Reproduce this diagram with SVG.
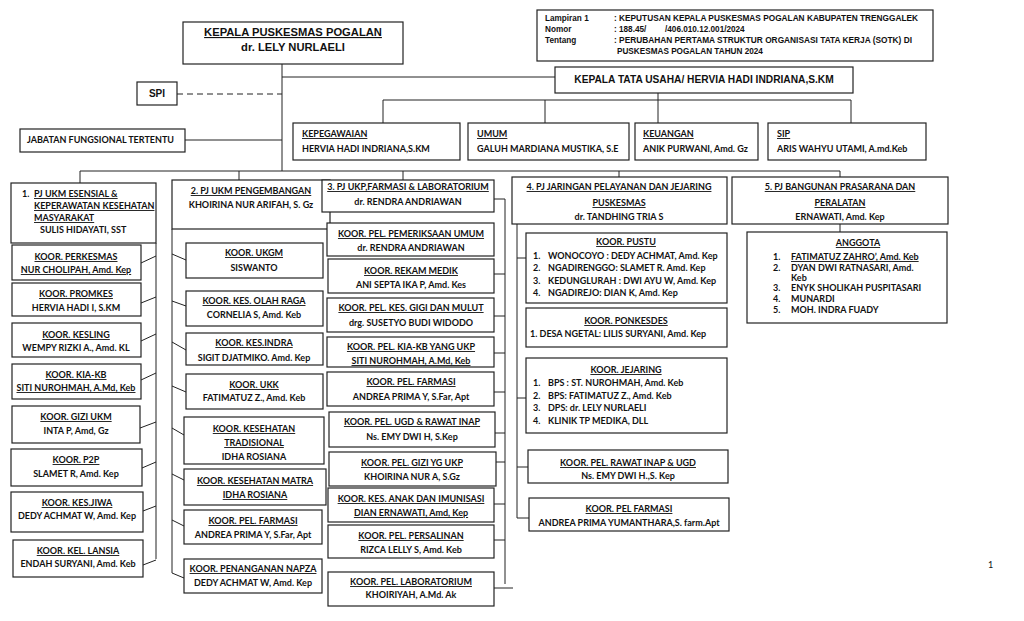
<svg xmlns="http://www.w3.org/2000/svg" width="1024" height="621" viewBox="0 0 1024 621">
<style>
.b{fill:#fff;stroke:#222;stroke-width:1.2}
.t{font-family:Lato,"Open Sans",sans-serif;font-weight:700;font-size:9px;fill:#111}
.c{text-anchor:middle}
.u{text-decoration:underline}
.a{font-family:"Liberation Sans",Arial,sans-serif;font-weight:700;fill:#111}
.h{font-size:8.2px}
.ln{stroke:#222;stroke-width:1;fill:none}
</style>
<rect width="1024" height="621" fill="#fff"/>
<g id="connectors">
<path class="ln" d="M282 64V171M282 77H555M282 140H185M80 171H840M80 171V183M239 171V180M403 171V180M619 171V177M840 171V177M840 224V232"/>
<path class="ln" d="M177 94H282" stroke-dasharray="6,4"/>
<path class="ln" d="M658 93V100M383 100H851M383 100V123M545 100V123M658 100V123M851 100V123"/>
<path class="ln" d="M156 243V559M141 263L156 256M141 303L156 297M141 341L156 334M141 380L156 373M140 428L156 422M142 468L156 462M143 511L156 506M143 565L156 560"/>
<path class="ln" d="M172 229V573M172 254L186 260M172 301L186 306M172 342L186 350M172 386L186 392M172 428L184 435M172 474L184 480M172 520L184 526M172 573L184 578"/>
<path class="ln" d="M494 199H505V584M494 274H505M494 316H505M494 353H505M494 392H505M495 433H505M496 462H505M494 504H505M494 540H505M494 588H513"/>
<path class="ln" d="M517 224V518M517 258H526M517 398H526M517 467H528M517 518H529"/>
</g>
<g id="header">
<rect class="b" x="537" y="10" width="396" height="51"/>
<text class="a h" x="545" y="21">Lampiran 1</text>
<text class="a h" x="545" y="32">Nomor</text>
<text class="a h" x="545" y="43">Tentang</text>
<text class="a h" x="614" y="21" textLength="304" lengthAdjust="spacingAndGlyphs">: KEPUTUSAN KEPALA PUSKESMAS POGALAN KABUPATEN TRENGGALEK</text>
<text class="a h" x="614" y="32">: 188.45/</text>
<text class="a h" x="665" y="32">/406.010.12.001/2024</text>
<text class="a h" x="614" y="43" textLength="298" lengthAdjust="spacingAndGlyphs">: PERUBAHAN PERTAMA STRUKTUR ORGANISASI TATA KERJA (SOTK) DI</text>
<text class="a h" x="617" y="54">PUSKESMAS POGALAN TAHUN 2024</text>
</g>
<g id="kepala">
<rect class="b" x="183" y="22" width="220" height="42"/>
<text class="a c u" font-size="11.2" x="293" y="36">KEPALA  PUSKESMAS POGALAN</text>
<text class="a c" font-size="11.2" x="293" y="51">dr. LELY NURLAELI</text>
</g>
<g id="spi">
<rect class="b" x="137" y="82" width="40" height="23"/>
<text class="a c" font-size="10" x="157" y="97">SPI</text>
</g>
<g id="jft">
<rect class="b" x="20" y="129" width="165" height="23"/>
<text class="t" x="27" y="143">JABATAN FUNGSIONAL TERTENTU</text>
</g>
<g id="ktu">
<rect class="b" x="555" y="67" width="298" height="26"/>
<text class="a c" font-size="10.2" x="704" y="83">KEPALA TATA USAHA/ HERVIA HADI INDRIANA,S.KM</text>
</g>
<g id="kepegawaian">
<rect class="b" x="293" y="123" width="167" height="37"/>
<text class="t u" x="302" y="137">KEPEGAWAIAN</text>
<text class="t" x="302" y="152">HERVIA HADI INDRIANA,S.KM</text>
</g>
<g id="umum">
<rect class="b" x="468" y="123" width="161" height="37"/>
<text class="t u" x="477" y="137">UMUM</text>
<text class="t" x="477" y="152">GALUH MARDIANA MUSTIKA, S.E</text>
</g>
<g id="keuangan">
<rect class="b" x="635" y="123" width="123" height="37"/>
<text class="t u" x="643" y="137">KEUANGAN</text>
<text class="t" x="643" y="152">ANIK PURWANI, Amd. Gz</text>
</g>
<g id="sip">
<rect class="b" x="768" y="123" width="158" height="37"/>
<text class="t u" x="777" y="137">SIP</text>
<text class="t" x="777" y="152">ARIS WAHYU UTAMI, A.md.Keb</text>
</g>
<g id="pj1">
<rect class="b" x="11" y="183" width="145" height="60"/>
<text class="t" x="22" y="197">1.</text>
<text class="t u" x="34" y="197">PJ UKM ESENSIAL &amp;</text>
<text class="t u" x="34" y="209">KEPERAWATAN KESEHATAN</text>
<text class="t u" x="34" y="221">MASYARAKAT</text>
<text class="t" x="40" y="233">SULIS HIDAYATI, SST</text>
</g>
<g id="perkesmas"><rect class="b" x="12" y="245" width="129" height="35"/><text class="t c u" x="76" y="260">KOOR. PERKESMAS</text><text class="t c u" x="76" y="273">NUR CHOLIPAH, Amd. Kep</text></g>
<g id="promkes"><rect class="b" x="12" y="283" width="129" height="33"/><text class="t c u" x="76" y="297">KOOR. PROMKES</text><text class="t c" x="76" y="311">HERVIA HADI I, S.KM</text></g>
<g id="kesling"><rect class="b" x="12" y="323" width="129" height="34"/><text class="t c u" x="76" y="338">KOOR. KESLING</text><text class="t c" x="76" y="351">WEMPY RIZKI A., Amd. KL</text></g>
<g id="kiakb"><rect class="b" x="12" y="364" width="129" height="35"/><text class="t c u" x="76" y="378">KOOR. KIA-KB</text><text class="t c u" x="76" y="391">SITI NUROHMAH, A.Md, Keb</text></g>
<g id="gizi"><rect class="b" x="12" y="406" width="128" height="37"/><text class="t c u" x="76" y="420">KOOR. GIZI UKM</text><text class="t c" x="76" y="434">INTA P, Amd, Gz</text></g>
<g id="p2p"><rect class="b" x="11" y="449" width="131" height="37"/><text class="t c u" x="76" y="463">KOOR. P2P</text><text class="t c" x="76" y="477">SLAMET R, Amd. Kep</text></g>
<g id="kesjiwa"><rect class="b" x="11" y="492" width="132" height="40"/><text class="t c u" x="77" y="506">KOOR. KES.JIWA</text><text class="t c" x="77" y="519">DEDY ACHMAT W, Amd. Kep</text></g>
<g id="lansia"><rect class="b" x="13" y="540" width="130" height="37"/><text class="t c u" x="78" y="554">KOOR. KEL. LANSIA</text><text class="t c" x="78" y="567">ENDAH SURYANI, Amd. Keb</text></g>
<g id="pj2">
<rect class="b" x="172" y="180" width="158" height="49"/>
<text class="t c u" x="251" y="194">2. PJ UKM PENGEMBANGAN</text>
<text class="t c" x="251" y="208">KHOIRINA NUR ARIFAH, S. Gz</text>
</g>
<g id="ukgm"><rect class="b" x="186" y="243" width="137" height="35"/><text class="t c u" x="254" y="256">KOOR. UKGM</text><text class="t c" x="254" y="271">SISWANTO</text></g>
<g id="olahraga"><rect class="b" x="186" y="291" width="137" height="35"/><text class="t c u" x="254" y="304">KOOR. KES. OLAH RAGA</text><text class="t c" x="254" y="318">CORNELIA S, Amd. Keb</text></g>
<g id="kesindra"><rect class="b" x="186" y="333" width="137" height="32"/><text class="t c u" x="254" y="346">KOOR. KES.INDRA</text><text class="t c" x="254" y="361">SIGIT DJATMIKO. Amd. Kep</text></g>
<g id="ukk"><rect class="b" x="186" y="374" width="137" height="35"/><text class="t c u" x="254" y="388">KOOR. UKK</text><text class="t c" x="254" y="401">FATIMATUZ Z., Amd. Keb</text></g>
<g id="tradisional"><rect class="b" x="184" y="417" width="140" height="47"/><text class="t c u" x="254" y="432">KOOR. KESEHATAN</text><text class="t c u" x="254" y="446">TRADISIONAL</text><text class="t c" x="254" y="460">IDHA ROSIANA</text></g>
<g id="matra"><rect class="b" x="184" y="469" width="142" height="36"/><text class="t c u" x="255" y="484">KOOR. KESEHATAN MATRA</text><text class="t c u" x="255" y="498">IDHA ROSIANA</text></g>
<g id="farmasi2"><rect class="b" x="184" y="510" width="138" height="34"/><text class="t c u" x="253" y="524">KOOR. PEL. FARMASI</text><text class="t c" x="253" y="538">ANDREA PRIMA Y, S.Far, Apt</text></g>
<g id="napza"><rect class="b" x="184" y="559" width="138" height="34"/><text class="t c u" x="253" y="572">KOOR. PENANGANAN NAPZA</text><text class="t c" x="253" y="586">DEDY ACHMAT W, Amd. Kep</text></g>
<g id="pj3">
<rect class="b" x="322" y="180" width="172" height="32"/>
<text class="t c u" x="408" y="190">3. PJ UKP,FARMASI &amp; LABORATORIUM</text>
<text class="t c" x="408" y="205">dr. RENDRA ANDRIAWAN</text>
</g>
<g id="pemeriksaan"><rect class="b" x="327" y="223" width="167" height="33"/><text class="t c u" x="411" y="237">KOOR. PEL. PEMERIKSAAN UMUM</text><text class="t c" x="411" y="251">dr. RENDRA ANDRIAWAN</text></g>
<g id="rekammedik"><rect class="b" x="328" y="259" width="166" height="34"/><text class="t c u" x="411" y="274">KOOR. REKAM MEDIK</text><text class="t c" x="411" y="288">ANI SEPTA IKA P, Amd. Kes</text></g>
<g id="gigi"><rect class="b" x="327" y="298" width="167" height="34"/><text class="t c u" x="411" y="311">KOOR. PEL. KES. GIGI DAN MULUT</text><text class="t c" x="411" y="326">drg. SUSETYO BUDI WIDODO</text></g>
<g id="kiaukp"><rect class="b" x="327" y="337" width="167" height="30"/><text class="t c u" x="411" y="350">KOOR. PEL. KIA-KB YANG UKP</text><text class="t c u" x="411" y="364">SITI NUROHMAH, A.Md, Keb</text></g>
<g id="farmasi3"><rect class="b" x="327" y="372" width="167" height="34"/><text class="t c u" x="411" y="385">KOOR. PEL. FARMASI</text><text class="t c" x="411" y="400">ANDREA PRIMA Y, S.Far, Apt</text></g>
<g id="ugd"><rect class="b" x="329" y="412" width="166" height="35"/><text class="t c u" x="412" y="425">KOOR. PEL. UGD &amp; RAWAT INAP</text><text class="t c" x="412" y="440">Ns. EMY DWI H, S.Kep</text></g>
<g id="giziukp"><rect class="b" x="329" y="452" width="167" height="34"/><text class="t c u" x="412" y="466">KOOR. PEL. GIZI YG UKP</text><text class="t c" x="412" y="480">KHOIRINA NUR A, S.Gz</text></g>
<g id="anak"><rect class="b" x="328" y="488" width="166" height="34"/><text class="t c u" x="411" y="502">KOOR. KES. ANAK DAN IMUNISASI</text><text class="t c u" x="411" y="516">DIAN ERNAWATI, Amd, Kep</text></g>
<g id="persalinan"><rect class="b" x="328" y="525" width="166" height="33"/><text class="t c u" x="411" y="539">KOOR. PEL. PERSALINAN</text><text class="t c" x="411" y="553">RIZCA LELLY S, Amd. Keb</text></g>
<g id="lab"><rect class="b" x="328" y="572" width="166" height="34"/><text class="t c u" x="411" y="585">KOOR. PEL. LABORATORIUM</text><text class="t c" x="411" y="598">KHOIRIYAH, A.Md. Ak</text></g>
<g id="pj4">
<rect class="b" x="512" y="177" width="215" height="47"/>
<text class="t c u" x="619" y="190">4. PJ JARINGAN PELAYANAN DAN JEJARING</text>
<text class="t c u" x="619" y="206">PUSKESMAS</text>
<text class="t c" x="619" y="220">dr. TANDHING TRIA S</text>
</g>
<g id="pustu">
<rect class="b" x="526" y="233" width="201" height="70"/>
<text class="t c u" x="626" y="245">KOOR. PUSTU</text>
<text class="t" x="533" y="259">1.</text><text class="t" x="548" y="259">WONOCOYO : DEDY ACHMAT, Amd. Kep</text>
<text class="t" x="533" y="271">2.</text><text class="t" x="548" y="271">NGADIRENGGO: SLAMET R. Amd. Kep</text>
<text class="t" x="533" y="284">3.</text><text class="t" x="548" y="284">KEDUNGLURAH : DWI AYU W, Amd. Kep</text>
<text class="t" x="533" y="296">4.</text><text class="t" x="548" y="296">NGADIREJO: DIAN K, Amd. Kep</text>
</g>
<g id="ponkesdes">
<rect class="b" x="526" y="308" width="201" height="39"/>
<text class="t c u" x="626" y="324">KOOR. PONKESDES</text>
<text class="t" x="530" y="337">1. DESA NGETAL: LILIS SURYANI, Amd. Kep</text>
</g>
<g id="jejaring">
<rect class="b" x="526" y="358" width="201" height="75"/>
<text class="t c u" x="626" y="373">KOOR. JEJARING</text>
<text class="t" x="533" y="386">1.</text><text class="t" x="548" y="386">BPS : ST. NUROHMAH, Amd. Keb</text>
<text class="t" x="533" y="399">2.</text><text class="t" x="548" y="399">BPS: FATIMATUZ Z., Amd. Keb</text>
<text class="t" x="533" y="411">3.</text><text class="t" x="548" y="411">DPS: dr. LELY NURLAELI</text>
<text class="t" x="533" y="424">4.</text><text class="t" x="548" y="424">KLINIK TP MEDIKA, DLL</text>
</g>
<g id="rawatinap"><rect class="b" x="528" y="450" width="200" height="33"/><text class="t c u" x="628" y="466">KOOR. PEL. RAWAT INAP &amp; UGD</text><text class="t c" x="628" y="479">Ns. EMY DWI H.,S. Kep</text></g>
<g id="pelfarmasi"><rect class="b" x="529" y="498" width="200" height="33"/><text class="t c u" x="629" y="512">KOOR. PEL FARMASI</text><text class="t c" x="629" y="526">ANDREA PRIMA YUMANTHARA,S. farm.Apt</text></g>
<g id="pj5">
<rect class="b" x="732" y="177" width="216" height="47"/>
<text class="t c u" x="840" y="190">5. PJ BANGUNAN PRASARANA DAN</text>
<text class="t c u" x="840" y="206">PERALATAN</text>
<text class="t c" x="840" y="220">ERNAWATI, Amd. Kep</text>
</g>
<g id="anggota">
<rect class="b" x="747" y="232" width="200" height="91"/>
<text class="t c u" x="858" y="246">ANGGOTA</text>
<text class="t" x="773" y="260">1.</text><text class="t u" x="791" y="260">FATIMATUZ ZAHRO’, Amd. Keb</text>
<text class="t" x="773" y="271">2.</text><text class="t" x="791" y="271">DYAN DWI RATNASARI, Amd.</text>
<text class="t" x="791" y="281">Keb</text>
<text class="t" x="773" y="291">3.</text><text class="t" x="791" y="291">ENYK SHOLIKAH PUSPITASARI</text>
<text class="t" x="773" y="302">4.</text><text class="t" x="791" y="302">MUNARDI</text>
<text class="t" x="773" y="313">5.</text><text class="t" x="791" y="313">MOH. INDRA FUADY</text>
</g>
<text x="988" y="568" style="font-family:Lato,sans-serif;font-size:9px;fill:#111">1</text>
</svg>
